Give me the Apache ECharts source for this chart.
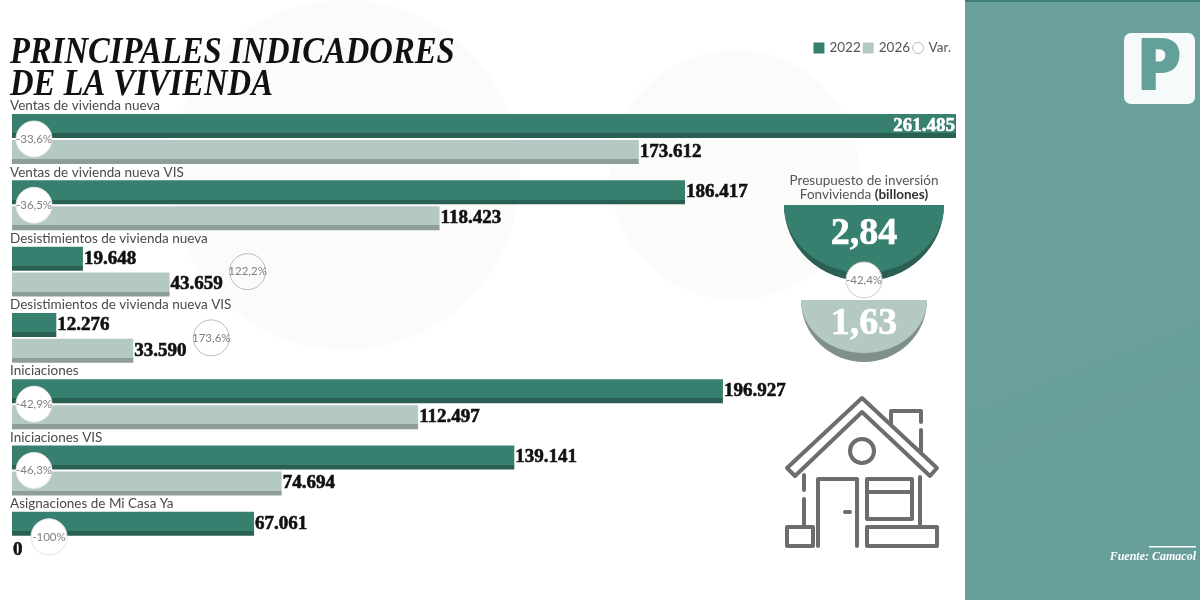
<!DOCTYPE html>
<html><head><meta charset="utf-8">
<script src="https://cdn.jsdelivr.net/npm/echarts@6/dist/echarts.min.js"></script>
<style>html,body{margin:0;padding:0;background:#fff}#c{width:1200px;height:600px}</style></head>
<body><div id="c"></div>
<script>
const categories=['Ventas de vivienda nueva','Ventas de vivienda nueva VIS','Desistimientos de vivienda nueva','Desistimientos de vivienda nueva VIS','Iniciaciones','Iniciaciones VIS','Asignaciones de Mi Casa Ya'];
const values2022=[261485,186417,19648,12276,196927,139141,67061];
const values2026=[173612,118423,43659,33590,112497,74694,0];
const variation=['-33,6%','-36,5%','122,2%','173,6%','-42,9%','-46,3%','-100%'];
const budgetYears=['2022','2026'];
const budgetValues=[2.84,1.63];
const budgetVariation='-42,4%';

const SANS='Lato, "Open Sans", sans-serif', SERIF='"Liberation Serif", serif';
const G=(a,b,s)=>new echarts.graphic.LinearGradient(0,0,0,1,[{offset:0,color:a},{offset:s,color:a},{offset:s,color:b},{offset:1,color:b}]);
const fmt=v=>String(v).replace(/\B(?=(\d{3})+$)/g,'.');
const maxV=Math.max(...values2022);
const barLabel={show:true,position:'right',distance:1,formatter:p=>fmt(p.value),fontFamily:SERIF,fontWeight:'bold',fontSize:19,color:'#111',textBorderColor:'#111',textBorderWidth:0.6};
const xMap=(api,v)=>api.coord([v,0])[0];
const STROKE='#6d6d6d';
function line(points,closed){return {type:closed?'polygon':'polyline',shape:{points},style:{fill:closed?'#fff':null,stroke:STROKE,lineWidth:4,lineJoin:'round',lineCap:'round'},silent:true};}
const box=(x,y,width,height)=>({type:'rect',shape:{x,y,width,height},style:{fill:'#fff',stroke:STROKE,lineWidth:4,lineJoin:'round'},silent:true});
const titleLine=(text,y)=>({type:'text',x:10,y,scaleX:.882,style:{x:0,y:0,text,verticalAlign:'middle',font:'italic bold 37px "Liberation Serif", serif',fill:'#111'},silent:true});

const option={
 animation:false,backgroundColor:'#fff',
 legend:{right:244,top:36,itemWidth:11,itemHeight:11,itemGap:2,textStyle:{fontFamily:SANS,fontSize:13.5,color:'#555'},
  data:[{name:'2022',icon:'rect',itemStyle:{color:'#37806f'}},{name:'2026',icon:'rect',itemStyle:{color:'#b5c9c4'}},{name:'Var.',icon:'circle',itemStyle:{color:'#fff',borderColor:'#bbb',borderWidth:1}}]},
 grid:{left:12,width:944,top:105.85,height:464.1},
 xAxis:{type:'value',min:0,max:maxV,show:false},
 yAxis:{type:'category',data:categories,inverse:true,show:false},
 graphic:[
  {type:'circle',z:-10,shape:{cx:345,cy:175,r:175},style:{fill:'#fbfbfa'},silent:true},
  {type:'circle',z:-10,shape:{cx:735,cy:175,r:125},style:{fill:'#fbfbfa'},silent:true},
  {type:'rect',z:-5,shape:{x:965,y:0,width:235,height:600},style:{fill:new echarts.graphic.LinearGradient(0,0,1,1,[{offset:0,color:'#6ba19d'},{offset:.5,color:'#69a09c'},{offset:1,color:'#669e9a'}])},silent:true},
  {type:'rect',z:-5,shape:{x:965,y:0,width:235,height:2},style:{fill:'#3f7f78'},silent:true},
  {type:'rect',z:-5,shape:{x:1124,y:33,width:71,height:71,r:7},style:{fill:'#f7fafa'},silent:true},
  {type:'text',z:-4,style:{x:1159,y:69,text:'P',align:'center',verticalAlign:'middle',font:'800 73px "Open Sans", sans-serif',fill:'#64a09a'},silent:true},
  {type:'rect',z:-4,shape:{x:1149,y:546,width:47,height:1.5},style:{fill:'#fff'},silent:true},
  {type:'text',z:-4,style:{x:1196,y:557,text:'Fuente: Camacol',align:'right',verticalAlign:'middle',font:'italic bold 12px "Liberation Serif", serif',fill:'#fff'},silent:true},
  titleLine('PRINCIPALES INDICADORES',53.5),
  titleLine('DE LA VIVIENDA',85.5),
  {type:'text',style:{x:864,y:181,text:'Presupuesto de inversión',align:'center',verticalAlign:'middle',font:'13.5px Lato, sans-serif',fill:'#555'},silent:true},
  {type:'text',style:{x:864,y:195,text:'Fonvivienda {b|(billones)}',align:'center',verticalAlign:'middle',font:'13.5px Lato, sans-serif',fill:'#555',rich:{b:{font:'bold 13.5px Lato, sans-serif',fill:'#333'}}},silent:true},
  {type:'group',silent:true,children:[
    line([[787,468],[862,398],[937,468],[930,476],[862,412],[795,476]],true),
    line([[891,425],[891,411],[921,411],[921,422]],false),
    line([[921,430],[921,452]],false),
    {type:'circle',shape:{cx:862,cy:451,r:12},style:{fill:'#fff',stroke:STROKE,lineWidth:4}},
    line([[804,475],[804,490]],false),
    line([[804,499],[804,526]],false),
    line([[920,477],[920,526]],false),
    line([[818,546],[818,479],[857,479],[857,546]],false),
    line([[845,512],[850,512]],false),
    box(867,479,45,40),
    line([[867,492],[912,492]],false),
    box(787,527,26,19),
    box(867,527,70,19)
  ]}
 ],
 series:[
  {name:'2022',type:'bar',barWidth:24,barGap:'8%',itemStyle:{color:G('#37806f','#2a6053',.8)},
   data:values2022.map(v=>v===maxV?{value:v,label:{position:'insideRight',color:'#fff',textBorderColor:'#fff',distance:1}}:v),label:barLabel},
  {name:'2026',type:'bar',barWidth:24,barGap:'8%',itemStyle:{color:G('#b5c9c4','#8d9e99',.8)},data:values2026,label:barLabel},
  {name:'labels',type:'custom',coordinateSystem:'cartesian2d',silent:true,z:5,data:categories.map((c,i)=>[0,i]),
   renderItem:(p,api)=>{const i=api.value(1);const y=api.coord([0,i])[1]-api.size([0,1])[1]/2;
    return {type:'text',style:{x:10,y,text:categories[i],verticalAlign:'middle',font:'13.5px Lato, sans-serif',fill:'#4a4a4a'}};}},
  {name:'Var.',type:'custom',coordinateSystem:'cartesian2d',silent:true,z:6,data:categories.map((c,i)=>[0,i]),
   renderItem:(p,api)=>{const i=api.value(1);const y=api.coord([0,i])[1];
    const b=values2026[i],up=b>values2022[i];
    const x=up?xMap(api,b)+78:(b===0?xMap(api,0)+37:xMap(api,0)+22);
    return {type:'group',children:[
      {type:'circle',shape:{cx:x,cy:y,r:18},style:{fill:up?'none':'#fff',stroke:up?'#bbb':'#e4e4e4',lineWidth:1}},
      {type:'text',style:{x,y,text:variation[i],align:'center',verticalAlign:'middle',font:'11.5px Lato, sans-serif',fill:'#808080'}}]};}},
  {name:'budget '+budgetYears.join('-'),type:'custom',coordinateSystem:'none',silent:true,z:7,data:budgetValues.map((v,i)=>[v,i]),
   renderItem:(p,api)=>{const v=api.value(0),i=api.value(1);
    const r=80*Math.pow(v/budgetValues[0],.43),y=i===0?205:300,ry=i===0?68:53,rim=i===0?8:9;
    const cols=i===0?['#2a6053','#37806f']:['#7f8f8a','#b5c9c4'];
    const kids=[
      {type:'sector',x:864,y,scaleY:(ry+rim)/r,shape:{cx:0,cy:0,r,startAngle:0,endAngle:Math.PI},style:{fill:cols[0]}},
      {type:'sector',x:864,y,scaleY:ry/r,shape:{cx:0,cy:0,r,startAngle:0,endAngle:Math.PI},style:{fill:cols[1]}},
      {type:'text',style:{x:864,y:y+(i===0?29:24),text:String(v).replace('.',','),align:'center',verticalAlign:'middle',font:'bold 38px "Liberation Serif", serif',fill:'#fff',stroke:'#fff',lineWidth:.6}}];
    if(i===0){kids.push({type:'circle',shape:{cx:864,cy:280,r:18},style:{fill:'#fff',stroke:'#ccc',lineWidth:1}},
      {type:'text',style:{x:864,y:280,text:budgetVariation,align:'center',verticalAlign:'middle',font:'11.5px Lato, sans-serif',fill:'#808080'}});}
    return {type:'group',children:kids};}}
 ]
};
echarts.init(document.getElementById('c')).setOption(option);
</script></body></html>
